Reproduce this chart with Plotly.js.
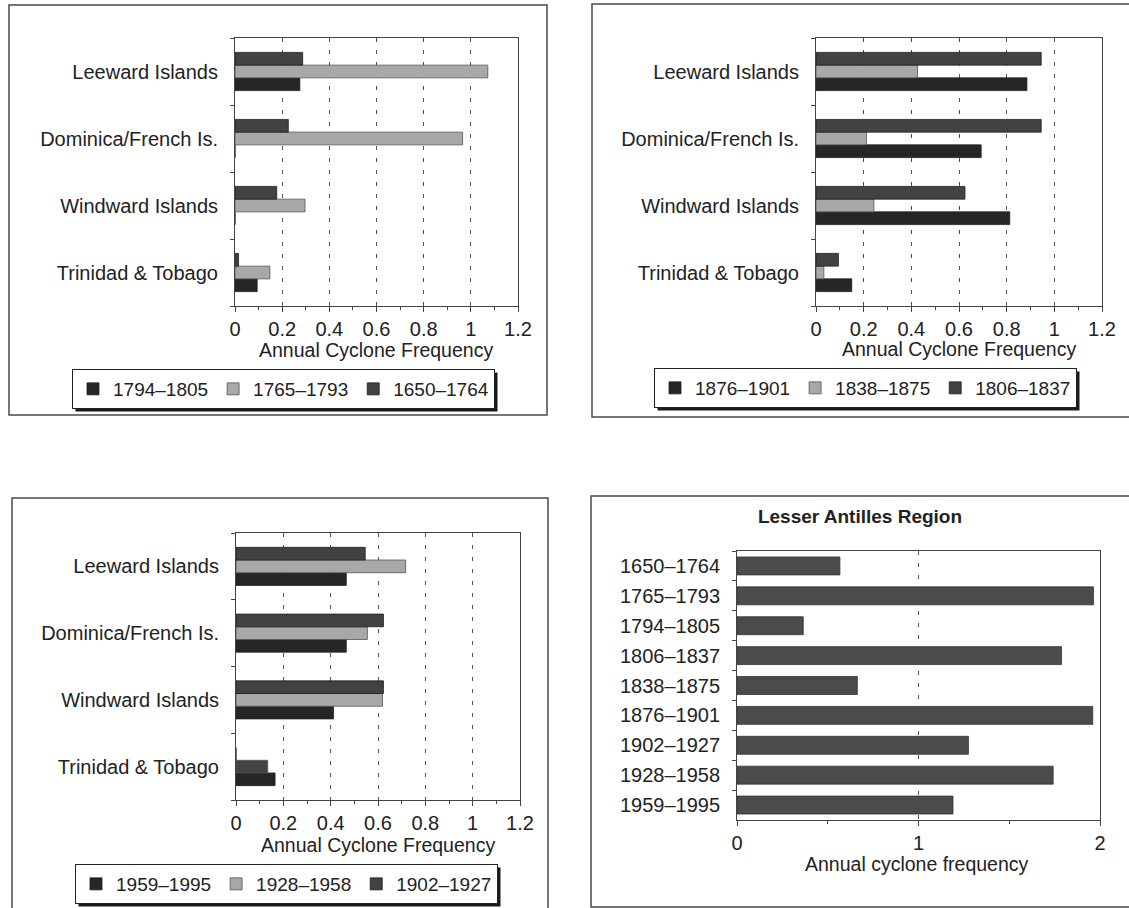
<!DOCTYPE html>
<html>
<head>
<meta charset="utf-8">
<script src="https://cdn.plot.ly/plotly-3.0.1.min.js"></script>
<style>
  html, body { margin: 0; padding: 0; background: #fff; }
  #chart { width: 1129px; height: 908px; }
</style>
</head>
<body>
<div id="chart"></div>
<script>
// ---------- DATA ----------
const regions = ['Leeward Islands', 'Dominica/French Is.', 'Windward Islands', 'Trinidad & Tobago'];

// Panel 1 (top-left)
const p1Names = ['1794–1805', '1765–1793', '1650–1764'];
const p1_1794_1805 = [0.275, 0, 0, 0.094];
const p1_1765_1793 = [1.072, 0.965, 0.297, 0.148];
const p1_1650_1764 = [0.287, 0.226, 0.177, 0.015];

// Panel 2 (top-right)
const p2Names = ['1876–1901', '1838–1875', '1806–1837'];
const p2_1876_1901 = [0.885, 0.693, 0.813, 0.150];
const p2_1838_1875 = [0.426, 0.212, 0.243, 0.033];
const p2_1806_1837 = [0.945, 0.945, 0.625, 0.094];

// Panel 3 (bottom-left)
const p3Names = ['1959–1995', '1928–1958', '1902–1927'];
const p3_1959_1995 = [0.466, 0.466, 0.412, 0.165];
const p3_1928_1958 = [0.717, 0.555, 0.619, 0.134];
const p3_1902_1927 = [0.546, 0.623, 0.623, 0];

// Panel 4 (bottom-right) Lesser Antilles Region
const periods = ['1650–1764', '1765–1793', '1794–1805', '1806–1837', '1838–1875',
                 '1876–1901', '1902–1927', '1928–1958', '1959–1995'];
const regionFreq = [0.567, 1.964, 0.365, 1.788, 0.663, 1.960, 1.275, 1.742, 1.190];

const axisTitle = 'Annual Cyclone Frequency';
const axisTitle4 = 'Annual cyclone frequency';
const chartTitle = 'Lesser Antilles Region';

// ---------- LAYOUT HELPERS ----------
const W = 1129, H = 908;
const px = x => x / W;
const py = y => 1 - y / H;
const FONT = 'Liberation Sans, Arial, Helvetica, sans-serif';
const TXT = '#222';

const cBottom = '#262626', cMid = '#a8a8a8', cTop = '#424242', cRegion = '#4b4b4b';
const lineCol = '#1e1e1e';

function xAxis(x0, x1, anchor, range, dtick, minorD) {
  return {
    domain: [px(x0), px(x1)], anchor: anchor, range: range, dtick: dtick, tick0: 0,
    showgrid: true, gridcolor: '#555', gridwidth: 1, griddash: '4px,8px',
    showline: true, linecolor: '#444', linewidth: 1, mirror: true,
    ticks: 'outside', ticklen: 5, tickcolor: '#444', tickwidth: 1,
    minor: { ticks: 'outside', ticklen: 3, dtick: minorD, tick0: 0, tickcolor: '#444', showgrid: false },
    zeroline: false, tickfont: { size: 20, color: TXT, family: FONT }, fixedrange: true
  };
}
function yAxis(y0, y1, anchor, cats, reversed) {
  const ax = {
    domain: [py(y1), py(y0)], anchor: anchor, type: 'category',
    categoryorder: 'array', categoryarray: cats,
    showline: true, linecolor: '#444', linewidth: 1, mirror: true,
    ticks: 'outside', ticklen: 4, tickcolor: '#444', tickson: 'boundaries',
    ticklabelstandoff: 12,
    showgrid: false, zeroline: false,
    tickfont: { size: 20, color: TXT, family: FONT }, fixedrange: true
  };
  if (reversed) ax.autorange = 'reversed';
  return ax;
}

const regionsBottomUp = regions.slice().reverse();

function bar(x, name, color, xa, ya, legendId, lineColor) {
  return {
    type: 'bar', orientation: 'h', y: regions, x: x, name: name,
    xaxis: xa, yaxis: ya, legend: legendId,
    marker: { color: color, line: { color: lineColor || lineCol, width: 0.8 } }
  };
}

// per-point colour for panel 3 middle series (its Trinidad bar is printed dark)
const p3MidColors = regions.map(r => r === 'Trinidad & Tobago' ? cTop : cMid);

const data = [
  bar(p1_1794_1805, p1Names[0], cBottom, 'x', 'y', 'legend'),
  bar(p1_1765_1793, p1Names[1], cMid, 'x', 'y', 'legend', '#555'),
  bar(p1_1650_1764, p1Names[2], cTop, 'x', 'y', 'legend'),

  bar(p2_1876_1901, p2Names[0], cBottom, 'x2', 'y2', 'legend2'),
  bar(p2_1838_1875, p2Names[1], cMid, 'x2', 'y2', 'legend2', '#555'),
  bar(p2_1806_1837, p2Names[2], cTop, 'x2', 'y2', 'legend2'),

  bar(p3_1959_1995, p3Names[0], cBottom, 'x3', 'y3', 'legend3'),
  Object.assign(bar(p3_1928_1958, p3Names[1], cMid, 'x3', 'y3', 'legend3', '#555'),
                { marker: { color: p3MidColors, line: { color: '#555', width: 0.8 } } }),
  bar(p3_1902_1927, p3Names[2], cTop, 'x3', 'y3', 'legend3'),

  {
    type: 'bar', orientation: 'h', y: periods, x: regionFreq, name: chartTitle,
    xaxis: 'x4', yaxis: 'y4', showlegend: false, width: 0.6,
    marker: { color: cRegion, line: { color: '#333', width: 0.8 } }
  }
];

function legendCfg(x, y) {
  return {
    orientation: 'h', x: px(x), xanchor: 'left', y: py(y), yanchor: 'top',
    bgcolor: '#fff', bordercolor: '#222', borderwidth: 1,
    font: { size: 19, color: TXT, family: FONT }, itemwidth: 30, traceorder: 'normal'
  };
}

function frame(x0, y0, x1, y1) {
  return {
    type: 'rect', xref: 'paper', yref: 'paper',
    x0: px(x0), x1: px(x1), y0: py(y1), y1: py(y0),
    line: { color: '#4a4a4a', width: 1.5 }, fillcolor: 'rgba(0,0,0,0)', layer: 'below'
  };
}

function ann(text, x, y) {
  return {
    text: text, xref: 'paper', yref: 'paper', x: px(x), y: py(y),
    xanchor: 'center', yanchor: 'middle', showarrow: false,
    font: { size: 19.5, color: TXT, family: FONT }
  };
}

const layout = {
  width: W, height: H,
  margin: { l: 0, r: 0, t: 0, b: 0, pad: 0 },
  paper_bgcolor: '#fff', plot_bgcolor: '#fff',
  font: { family: FONT, color: TXT },
  barmode: 'group', bargap: 0.43, bargroupgap: 0,
  title: {
    text: chartTitle, x: px(860), y: py(516), xanchor: 'center', yanchor: 'middle',
    xref: 'paper', yref: 'container',
    font: { size: 19, color: TXT, family: FONT, weight: 'bold' }
  },
  xaxis:  xAxis(235, 518, 'y', [0, 1.2], 0.2, 0.1),
  yaxis:  yAxis(38, 306, 'x', regionsBottomUp, false),
  xaxis2: xAxis(816, 1102, 'y2', [0, 1.2], 0.2, 0.1),
  yaxis2: yAxis(38, 306, 'x2', regionsBottomUp, false),
  xaxis3: xAxis(236, 520, 'y3', [0, 1.2], 0.2, 0.1),
  yaxis3: yAxis(533, 800, 'x3', regionsBottomUp, false),
  xaxis4: xAxis(737, 1100, 'y4', [0, 2], 1, 0.5),
  yaxis4: yAxis(551, 820, 'x4', periods, true),
  legend:  legendCfg(72, 369),
  legend2: legendCfg(654, 368),
  legend3: legendCfg(75, 864),
  annotations: [
    ann(axisTitle, 376, 350),
    ann(axisTitle, 959, 349),
    ann(axisTitle, 378, 845),
    ann(axisTitle4, 917, 864)
  ],
  shapes: [
    frame(9, 5, 547, 415),
    frame(592, 4, 1140, 417),
    frame(12, 498, 548, 915),
    frame(591, 496, 1140, 907)
  ]
};

const gd = document.getElementById('chart');
Plotly.newPlot(gd, data, layout, { staticPlot: true, displayModeBar: false }).then(() => {
  const shapes = layout.shapes.slice();
  const g = gd.getBoundingClientRect();
  ['legend', 'legend2', 'legend3'].forEach(id => {
    const bg = gd.querySelector('g.' + id + ' rect.bg');
    if (!bg) return;
    const r = bg.getBoundingClientRect();
    const x0 = r.left - g.left, y0 = r.top - g.top;
    shapes.push({
      type: 'rect', xref: 'paper', yref: 'paper',
      x0: px(x0 + 3), x1: px(x0 + r.width + 3), y0: py(y0 + r.height + 3), y1: py(y0 + 3),
      fillcolor: '#1a1a1a', line: { width: 0 }, layer: 'above'
    });
  });
  return Plotly.relayout(gd, { shapes: shapes });
});
</script>
</body>
</html>
